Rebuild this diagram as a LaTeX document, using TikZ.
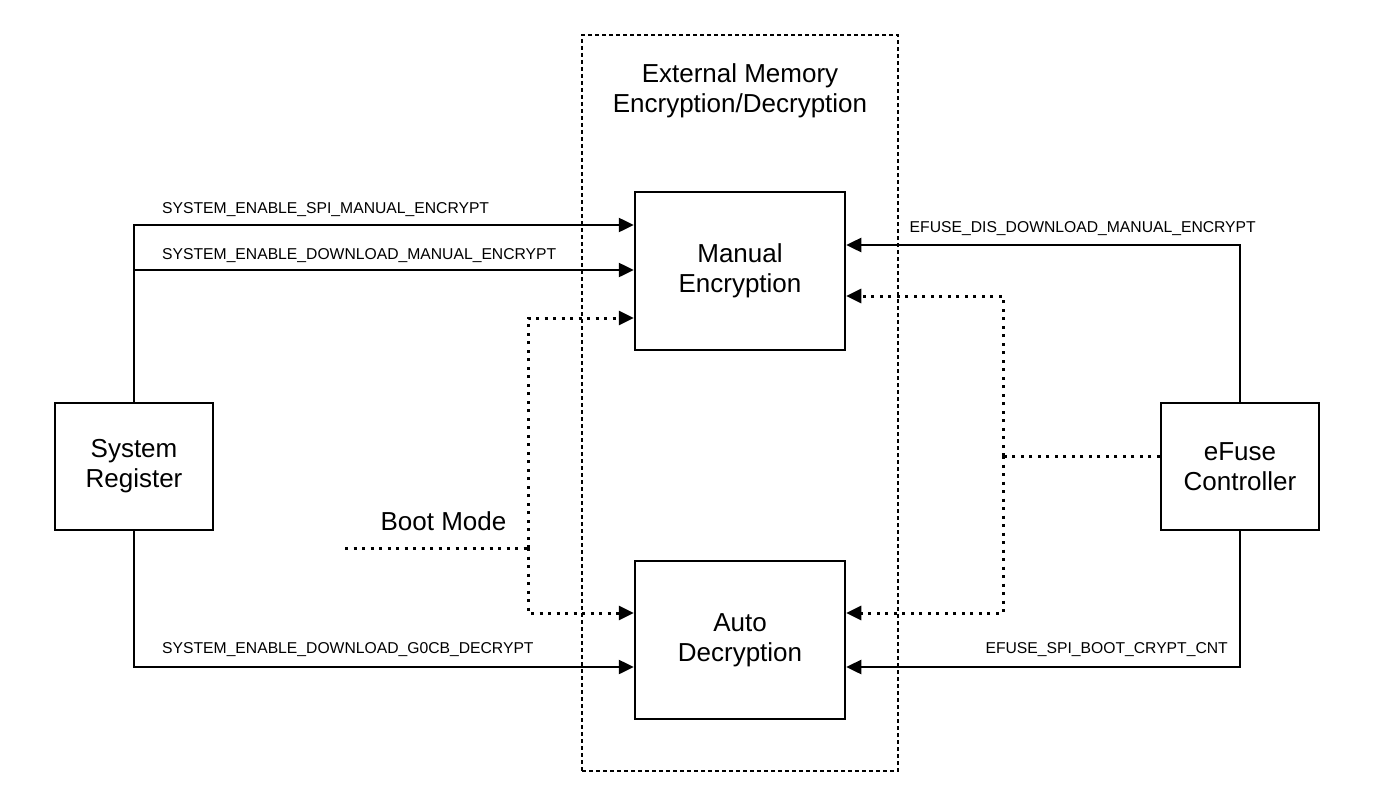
\documentclass[tikz,border=0pt]{standalone}
\usepackage{fontspec}
\setmainfont{Liberation Sans}
\usetikzlibrary{arrows.meta}
\begin{document}
\begin{tikzpicture}[x=1pt,y=-1pt,
  blk/.style={draw,line width=2.5pt,rectangle,align=center,inner sep=0pt,
    font=\fontsize{26}{30}\selectfont},
  sig/.style={line width=2.5pt,-{Triangle[length=15pt,width=14pt]}},
  dotsig/.style={line width=3pt,dash pattern=on 3pt off 5.5pt,-{Triangle[length=15pt,width=14pt]}},
  dotln/.style={line width=3pt,dash pattern=on 3pt off 5.5pt},
  lbl/.style={inner sep=0pt,font=\fontsize{15.7}{18}\selectfont},
  big/.style={inner sep=0pt,font=\fontsize{26}{30}\selectfont}]
\useasboundingbox (0,0) rectangle (1374,803);
\fill[white] (0,0) rectangle (1374,803);
% frame
\node[draw,line width=1.2pt,dash pattern=on 4pt off 3pt,minimum width=316pt,minimum height=736pt,inner sep=0pt] (frame) at (740,403) {};
\node[big,anchor=base] (t1) at (740,82) {External Memory};
\node[big,anchor=base] (t2) at (740,112) {Encryption/Decryption};
% blocks
\node[blk,minimum width=210pt,minimum height=158pt] (man) at (740,271) {\raisebox{-3pt}{\begin{tabular}{@{}c@{}}Manual\\Encryption\end{tabular}}};
\node[blk,minimum width=210pt,minimum height=158pt] (auto) at (740,640) {\raisebox{-3pt}{\begin{tabular}{@{}c@{}}Auto\\Decryption\end{tabular}}};
\node[blk,minimum width=158pt,minimum height=127pt] (sys) at (134,466.5) {System\\Register};
\node[blk,minimum width=158pt,minimum height=127pt] (efu) at (1240,466.5) {eFuse\\Controller};
% left signals
\draw[sig] (sys.north) |- ([yshift=46pt]man.west);
\draw[sig] (sys.north) |- ([yshift=1pt]man.west);
\draw[sig] (sys.south) |- ([yshift=-27pt]auto.west);
\node[lbl,anchor=base west] (l1) at (162,213) {SYSTEM\_ENABLE\_SPI\_MANUAL\_ENCRYPT};
\node[lbl,anchor=base west] (l2) at (162,259) {SYSTEM\_ENABLE\_DOWNLOAD\_MANUAL\_ENCRYPT};
\node[lbl,anchor=base west] (l3) at (162,653) {SYSTEM\_ENABLE\_DOWNLOAD\_G0CB\_DECRYPT};
% right signals
\draw[sig] (efu.north) |- ([yshift=26pt]man.east);
\draw[sig] (efu.south) |- ([yshift=-27pt]auto.east);
\node[lbl,anchor=base east] (r1) at (1256,232) {EFUSE\_DIS\_DOWNLOAD\_MANUAL\_ENCRYPT};
\node[lbl,anchor=base east] (r2) at (1228,653) {EFUSE\_SPI\_BOOT\_CRYPT\_CNT};
% boot mode
\node[big,anchor=base] (bmt) at (443.5,530) {Boot Mode};
\coordinate (bm) at (345,548);
\coordinate (bj) at (528,548);
\draw[dotln] (bm) -- (bj);
\draw[dotsig] (bj) |- ([yshift=-47pt]man.west);
\draw[dotsig] (bj) |- ([yshift=27pt]auto.west);
% efuse dotted
\coordinate (ej) at (1003,456);
\draw[dotln] ([yshift=10.5pt]efu.west) -- (ej);
\draw[dotsig] (ej) |- ([yshift=-25pt]man.east);
\draw[dotsig] (ej) |- ([yshift=27pt]auto.east);
\end{tikzpicture}
\end{document}
